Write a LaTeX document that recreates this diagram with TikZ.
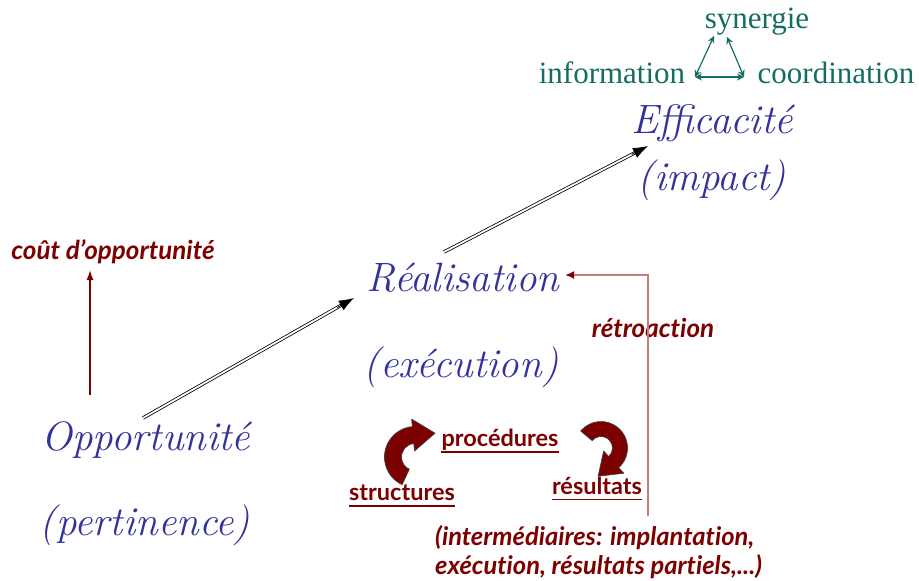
\documentclass[tikz,border=0pt]{standalone}
\usepackage{fontspec}
\usetikzlibrary{arrows.meta,calc}
\newfontfamily\tealfont{Liberation Serif}
\newfontfamily\redfont[Ligatures=NoCommon]{Lato}
\definecolor{tealc}{RGB}{22,108,100}
\definecolor{bluec}{RGB}{50,50,155}
\definecolor{redc}{RGB}{125,0,0}
\definecolor{pinkc}{RGB}{195,125,125}
\tikzset{
  tealtxt/.style={text=tealc, font=\tealfont\fontsize{31}{34}\selectfont, inner sep=0},
  bluetxt/.style={text=bluec, font=\itshape\fontsize{41}{44}\selectfont, inner sep=0},
  redit/.style={text=redc, font=\redfont\bfseries\itshape\fontsize{26}{30}\selectfont, inner sep=0},
  redul/.style={text=redc, font=\redfont\bfseries\fontsize{23.5}{26}\selectfont, inner sep=0},
  tealarr/.style={draw=tealc, line width=1.2, {Stealth[length=7,width=7]}-{Stealth[length=7,width=7]}},
  dbl/.style={draw=black, line width=0.8, double=white, double distance=1.8},
  dblhead/.style={draw=black, line width=0.8, -{Latex[length=15,width=11]}},
  curvarr/.style={fill=redc, draw=black!75, line width=0.7, line join=round},
}
\begin{document}
\begin{tikzpicture}[x=1pt,y=-1pt]
\useasboundingbox (0,0) rectangle (919,581);
% teal triangle
\node[tealtxt] (syn) at (757,22) {synergie};
\node[tealtxt] (info) at (612,73) {information};
\node[tealtxt] (coord) at (836,73) {coordination};
\coordinate (tl) at (695,77);
\coordinate (tr) at (744,77);
\coordinate (tt1) at (714,36);
\coordinate (tt2) at (727,37);
\draw[tealarr] (tl) -- (tr);
\draw[tealarr] (tl) -- (tt1);
\draw[tealarr] (tr) -- (tt2);
% blue texts
\node[bluetxt] (eff) at (712,123) {Efficacité};
\node[bluetxt] (imp) at (712,180) {(impact)};
\node[bluetxt] (rea) at (463,278) {Réalisation};
\node[bluetxt] (exe) at (461,367) {(exécution)};
\node[bluetxt] (opp) at (146,440) {Opportunité};
\node[bluetxt] (per) at (145,525) {(pertinence)};
% double arrows
\coordinate (a1s) at (143,418);
\coordinate (a1e) at (354,298);
\coordinate (a2s) at (444,252);
\coordinate (a2e) at (648,146);
\draw[dbl, shorten >=12] (a1s) -- (a1e);
\draw[dblhead] ($(a1s)!0.92!(a1e)$) coordinate (a1h) -- (a1e);
\draw[dbl, shorten >=12] (a2s) -- (a2e);
\draw[dblhead] ($(a2s)!0.92!(a2e)$) coordinate (a2h) -- (a2e);
% cout d'opportunite
\node[redit] (cout) at (113,252) {coût d’opportunité};
\coordinate (cb) at (90,395);
\coordinate (ct) at (90,270);
\draw[draw=redc, line width=1.4, -{Latex[length=10,width=7]}] (cb) -- (ct);
% retroaction
\node[redit] (retro) at (653,328) {rétroaction};
\coordinate (rb) at (648,516);
\coordinate (rc) at (648,275);
\coordinate (re) at (565,275);
\draw[draw=pinkc, line width=1.8, -{Latex[length=9,width=8,color=redc]}] (rb) -- (rc) -- (re);
% underlined labels
\node[redul] (proc) at (500,440) {procédures};
\node[redul] (struc) at (402,493) {structures};
\node[redul] (resu) at (597,486) {résultats};
\foreach \n in {proc,struc,resu}
  \draw[redc, line width=1.5] ([yshift=-5]\n.base west) -- ([yshift=-5]\n.base east);
\node[redit, font=\redfont\bfseries\itshape\fontsize{25.5}{29}\selectfont, align=left, anchor=west] (inter) at (435,552) {(intermédiaires: implantation,\\exécution, résultats partiels,...)};
% curved block arrows
\begin{scope}[shift={(415,457)}, yscale=-1]
  \path[curvarr] (245:30.5) arc[start angle=245, end angle=95, radius=30.5]
    -- (95:38) -- ($(95:22)+(5:22)$) -- (95:6)
    -- (95:13.5) arc[start angle=95, end angle=245, radius=13.5] -- cycle;
\end{scope}
\begin{scope}[shift={(601,448)}, yscale=-1]
  \path[curvarr] (140:26.5) arc[start angle=140, end angle=-48, radius=26.5]
    -- (-48:34) -- ($(-48:19)+(-138:21)$) -- (-48:4)
    -- (-48:11.5) arc[start angle=-48, end angle=140, radius=11.5] -- cycle;
\end{scope}
\end{tikzpicture}
\end{document}
